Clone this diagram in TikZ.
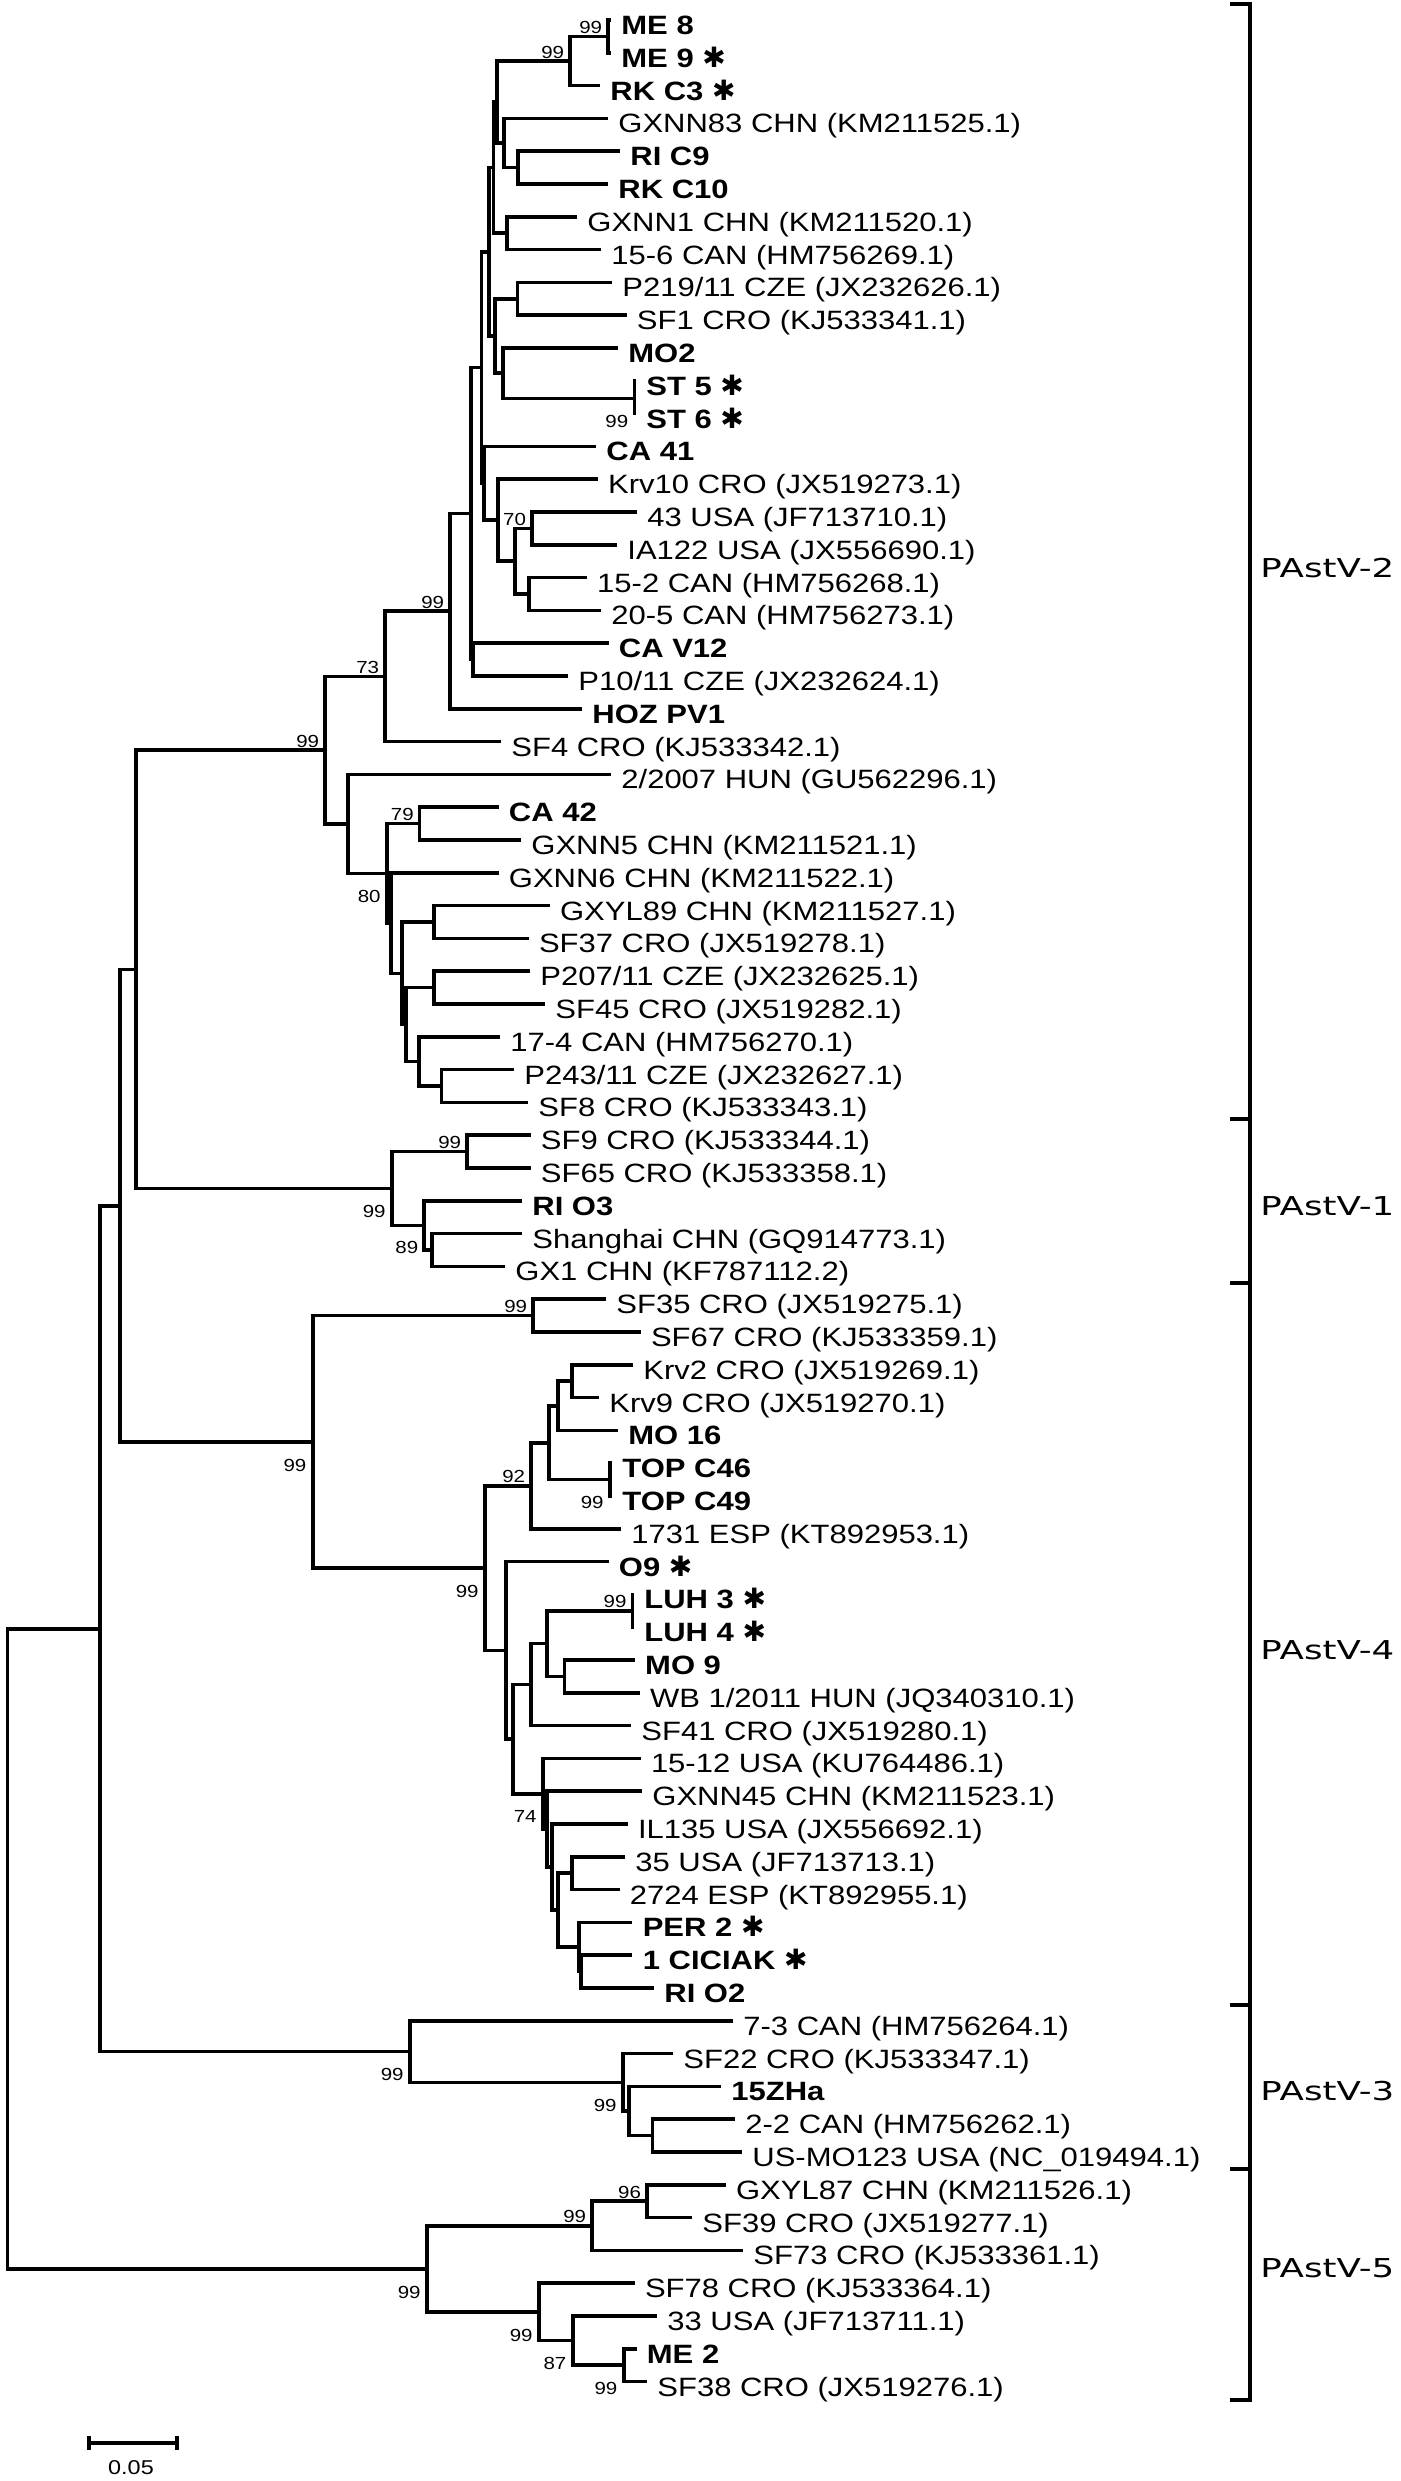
\documentclass[tikz,border=0pt]{standalone}
\usepackage{fontspec}
\newfontfamily\tipfont{Liberation Sans}[FakeStretch=1.17]
\newfontfamily\cladefont{DejaVu Sans}[FakeStretch=1.37]
\newfontfamily\markfont{DejaVu Sans}
\usetikzlibrary{positioning}
\newcommand{\astmark}{{\markfont\fontsize{14}{15}\selectfont ✱}}

\begin{document}
\begin{tikzpicture}[
x=0.5pt, y=-0.5pt,
    branch/.style={draw, line width=1.8pt, line join=miter},
    taxon/.style={anchor=base west, inner sep=0pt, xshift=5pt, yshift=-7.25pt, font=\tipfont\fontsize{13.25}{15}\selectfont},
    isolate/.style={taxon, font=\tipfont\bfseries\fontsize{13.25}{15}\selectfont},
    boot/.style={inner sep=0pt, font=\tipfont\fontsize{8.75}{10}\selectfont},
    bootup/.style={boot, node distance=1.2pt and 2.75pt},
    bootdn/.style={boot, node distance=8.3pt and 3pt},
    clade/.style={anchor=west, inner sep=0pt, font=\cladefont\fontsize{13}{15}\selectfont},
    cladebar/.style={draw, line width=2pt}
]
\useasboundingbox (0,0) rectangle (1401,2481);

    % ================= BACKBONE =================
    \coordinate (root) at (7.5,1948.8);
    \coordinate (nA) at (100,1628.7);
    \coordinate (nB) at (120,1205.7);
    \coordinate (nC) at (136,969.4);
    \coordinate (p2) at (325,750.2);
    \coordinate (p1) at (392,1188.5);
    \coordinate (p4) at (312.7,1441.9);
    \coordinate (p3) at (410,2051.6);
    \coordinate (p5) at (427,2268.9);

    % ================= PAstV-2 NODES =================
    \coordinate (n73) at (385,676.4);
    \coordinate (n99b) at (450,611.2);
    \coordinate (nU) at (471,513.6);
    \coordinate (nX) at (481.5,367.5);
    \coordinate (nZ) at (488.7,251.8);
    \coordinate (nR1) at (493.5,167.6);
    \coordinate (nQ) at (497,102);
    \coordinate (nMR) at (570,61);
    \coordinate (nM89) at (608,36.4);
    \coordinate (nG83) at (504,143);
    \coordinate (nRC) at (518,167.6);
    \coordinate (nG1) at (507,233.2);
    \coordinate (nS) at (495,336);
    \coordinate (nP219) at (517.4,298.8);
    \coordinate (nMO2) at (503,373.2);
    \coordinate (nST) at (634.6,398.4);
    \coordinate (nY) at (484,483.3);
    \coordinate (nKrv) at (498,520.2);
    \coordinate (nC1) at (515,561.2);
    \coordinate (n70) at (531.8,528.4);
    \coordinate (n152) at (529,594);
    \coordinate (nE) at (473,659.6);
    \coordinate (n80p) at (348,823.9);
    \coordinate (n80) at (387,873.4);
    \coordinate (n79) at (419.6,823.6);
    \coordinate (n81) at (391,923.1);
    \coordinate (n82) at (402,973.3);
    \coordinate (n86) at (434,922);
    \coordinate (n90) at (406,1024.5);
    \coordinate (n87) at (434,987.6);
    \coordinate (n85) at (419,1061.4);
    \coordinate (n113) at (441.6,1085.8);

    % ================= PAstV-1 NODES =================
    \coordinate (nSF9) at (467,1151.6);
    \coordinate (n89) at (424,1225.4);
    \coordinate (n89b) at (432,1250);

    % ================= PAstV-4 NODES =================
    \coordinate (nSF35) at (533,1315.6);
    \coordinate (n91) at (485,1568.1);
    \coordinate (n92) at (531,1485.8);
    \coordinate (n93) at (548.7,1442.7);
    \coordinate (n94) at (558,1405.8);
    \coordinate (nKrv2) at (571.7,1381.2);
    \coordinate (nTOP) at (610,1479.6);
    \coordinate (n95) at (505.7,1650.4);
    \coordinate (n96) at (512.8,1739.2);
    \coordinate (n97) at (531,1684.6);
    \coordinate (n99) at (547,1643.6);
    \coordinate (nLUH) at (632.4,1610.8);
    \coordinate (nMO9) at (564.5,1676.4);
    \coordinate (n98) at (543,1793.8);
    \coordinate (n100) at (547,1829.1);
    \coordinate (n103) at (552,1867);
    \coordinate (n104) at (558,1910.1);
    \coordinate (n35) at (571.7,1873.2);
    \coordinate (n101) at (579,1947);
    \coordinate (n102) at (581,1971.6);

    % ================= PAstV-3 / PAstV-5 NODES =================
    \coordinate (n105) at (623,2082.3);
    \coordinate (n106) at (629,2111);
    \coordinate (n107) at (652.5,2135.6);
    \coordinate (n108) at (592,2225.8);
    \coordinate (n110) at (646.8,2201.2);
    \coordinate (n109) at (539,2311.9);
    \coordinate (n111) at (572.7,2340.6);
    \coordinate (n112) at (623.7,2365.2);

    % ================= TIPS =================
    \coordinate (t_me8) at (611,20);
    \coordinate (t_me9) at (611,52.8);
    \coordinate (t_rkc3) at (600,85.6);
    \coordinate (t_gxnn83) at (608,118.4);
    \coordinate (t_ric9) at (620,151.2);
    \coordinate (t_rkc10) at (608,184);
    \coordinate (t_gxnn1) at (577,216.8);
    \coordinate (t_can156) at (601,249.6);
    \coordinate (t_p219) at (612,282.4);
    \coordinate (t_sf1) at (626.5,315.2);
    \coordinate (t_mo2) at (618,348);
    \coordinate (t_st5) at (636,380.8);
    \coordinate (t_st6) at (636,413.6);
    \coordinate (t_ca41) at (596,446.4);
    \coordinate (t_krv10) at (597.8,479.2);
    \coordinate (t_usa43) at (637,512);
    \coordinate (t_ia122) at (617,544.8);
    \coordinate (t_can152) at (586.8,577.6);
    \coordinate (t_can205) at (601,610.4);
    \coordinate (t_cav12) at (608.5,643.2);
    \coordinate (t_p10) at (568,676);
    \coordinate (t_hoz) at (582,708.8);
    \coordinate (t_sf4) at (501,741.6);
    \coordinate (t_hun2007) at (611,774.4);
    \coordinate (t_ca42) at (498.5,807.2);
    \coordinate (t_gxnn5) at (521,840);
    \coordinate (t_gxnn6) at (498.5,872.8);
    \coordinate (t_gxyl89) at (549.7,905.6);
    \coordinate (t_sf37) at (528.6,938.4);
    \coordinate (t_p207) at (530,971.2);
    \coordinate (t_sf45) at (545,1004);
    \coordinate (t_can174) at (500,1036.8);
    \coordinate (t_p243) at (514,1069.6);
    \coordinate (t_sf8) at (528,1102.4);
    \coordinate (t_sf9) at (530.5,1135.2);
    \coordinate (t_sf65) at (530.5,1168);
    \coordinate (t_rio3) at (522,1200.8);
    \coordinate (t_shanghai) at (522,1233.6);
    \coordinate (t_gx1) at (505,1266.4);
    \coordinate (t_sf35) at (606,1299.2);
    \coordinate (t_sf67) at (640.6,1332);
    \coordinate (t_krv2) at (633,1364.8);
    \coordinate (t_krv9) at (599,1397.6);
    \coordinate (t_mo16) at (618,1430.4);
    \coordinate (t_topc46) at (612,1463.2);
    \coordinate (t_topc49) at (612,1496);
    \coordinate (t_esp1731) at (621,1528.8);
    \coordinate (t_o9) at (608.5,1561.6);
    \coordinate (t_luh3) at (634,1594.4);
    \coordinate (t_luh4) at (634,1627.2);
    \coordinate (t_mo9) at (634.8,1660);
    \coordinate (t_wb) at (639.6,1692.8);
    \coordinate (t_sf41) at (631,1725.6);
    \coordinate (t_usa1512) at (640.6,1758.4);
    \coordinate (t_gxnn45) at (642,1791.2);
    \coordinate (t_il135) at (627.6,1824);
    \coordinate (t_usa35) at (625,1856.8);
    \coordinate (t_esp2724) at (619.5,1889.6);
    \coordinate (t_per2) at (632.4,1922.4);
    \coordinate (t_ciciak) at (632.4,1955.2);
    \coordinate (t_rio2) at (654,1988);
    \coordinate (t_can73) at (733,2020.8);
    \coordinate (t_sf22) at (673,2053.6);
    \coordinate (t_zha) at (721,2086.4);
    \coordinate (t_can22) at (735,2119.2);
    \coordinate (t_usmo) at (742,2152);
    \coordinate (t_gxyl87) at (725.7,2184.8);
    \coordinate (t_sf39) at (692,2217.6);
    \coordinate (t_sf73) at (743,2250.4);
    \coordinate (t_sf78) at (634.6,2283.2);
    \coordinate (t_usa33) at (657,2316);
    \coordinate (t_me2) at (636.5,2348.8);
    \coordinate (t_sf38) at (647,2381.6);

    % ================= BRANCHES =================
    \draw[branch] (nA) -| (root) |- (p5);
    \draw[branch] (nB) -| (nA) |- (p3);
    \draw[branch] (nC) -| (nB) |- (p4);
    \draw[branch] (p2) -| (nC) |- (p1);

    % PAstV-2
    \draw[branch] (n73) -| (p2) |- (n80p);
    \draw[branch] (n99b) -| (n73) |- (t_sf4);
    \draw[branch] (nU) -| (n99b) |- (t_hoz);
    \draw[branch] (nX) -| (nU) |- (nE);
    \draw[branch] (nZ) -| (nX) |- (nY);
    \draw[branch] (nR1) -| (nZ) |- (nS);
    \draw[branch] (nQ) -| (nR1) |- (nG1);
    \draw[branch] (nMR) -| (nQ) |- (nG83);
    \draw[branch] (nM89) -| (nMR) |- (t_rkc3);
    \draw[branch] (t_me8) -| (nM89) |- (t_me9);
    \draw[branch] (t_gxnn83) -| (nG83) |- (nRC);
    \draw[branch] (t_ric9) -| (nRC) |- (t_rkc10);
    \draw[branch] (t_gxnn1) -| (nG1) |- (t_can156);
    \draw[branch] (nP219) -| (nS) |- (nMO2);
    \draw[branch] (t_p219) -| (nP219) |- (t_sf1);
    \draw[branch] (t_mo2) -| (nMO2) |- (nST);
    \draw[branch] (t_st5) -| (nST) |- (t_st6);
    \draw[branch] (t_ca41) -| (nY) |- (nKrv);
    \draw[branch] (t_krv10) -| (nKrv) |- (nC1);
    \draw[branch] (n70) -| (nC1) |- (n152);
    \draw[branch] (t_usa43) -| (n70) |- (t_ia122);
    \draw[branch] (t_can152) -| (n152) |- (t_can205);
    \draw[branch] (t_cav12) -| (nE) |- (t_p10);
    \draw[branch] (t_hun2007) -| (n80p) |- (n80);
    \draw[branch] (n79) -| (n80) |- (n81);
    \draw[branch] (t_ca42) -| (n79) |- (t_gxnn5);
    \draw[branch] (t_gxnn6) -| (n81) |- (n82);
    \draw[branch] (n86) -| (n82) |- (n90);
    \draw[branch] (t_gxyl89) -| (n86) |- (t_sf37);
    \draw[branch] (n87) -| (n90) |- (n85);
    \draw[branch] (t_p207) -| (n87) |- (t_sf45);
    \draw[branch] (t_can174) -| (n85) |- (n113);
    \draw[branch] (t_p243) -| (n113) |- (t_sf8);

    % PAstV-1
    \draw[branch] (nSF9) -| (p1) |- (n89);
    \draw[branch] (t_sf9) -| (nSF9) |- (t_sf65);
    \draw[branch] (t_rio3) -| (n89) |- (n89b);
    \draw[branch] (t_shanghai) -| (n89b) |- (t_gx1);

    % PAstV-4
    \draw[branch] (nSF35) -| (p4) |- (n91);
    \draw[branch] (t_sf35) -| (nSF35) |- (t_sf67);
    \draw[branch] (n92) -| (n91) |- (n95);
    \draw[branch] (n93) -| (n92) |- (t_esp1731);
    \draw[branch] (n94) -| (n93) |- (nTOP);
    \draw[branch] (nKrv2) -| (n94) |- (t_mo16);
    \draw[branch] (t_krv2) -| (nKrv2) |- (t_krv9);
    \draw[branch] (t_topc46) -| (nTOP) |- (t_topc49);
    \draw[branch] (t_o9) -| (n95) |- (n96);
    \draw[branch] (n97) -| (n96) |- (n98);
    \draw[branch] (n99) -| (n97) |- (t_sf41);
    \draw[branch] (nLUH) -| (n99) |- (nMO9);
    \draw[branch] (t_luh3) -| (nLUH) |- (t_luh4);
    \draw[branch] (t_mo9) -| (nMO9) |- (t_wb);
    \draw[branch] (t_usa1512) -| (n98) |- (n100);
    \draw[branch] (t_gxnn45) -| (n100) |- (n103);
    \draw[branch] (t_il135) -| (n103) |- (n104);
    \draw[branch] (n35) -| (n104) |- (n101);
    \draw[branch] (t_usa35) -| (n35) |- (t_esp2724);
    \draw[branch] (t_per2) -| (n101) |- (n102);
    \draw[branch] (t_ciciak) -| (n102) |- (t_rio2);

    % PAstV-3
    \draw[branch] (t_can73) -| (p3) |- (n105);
    \draw[branch] (t_sf22) -| (n105) |- (n106);
    \draw[branch] (t_zha) -| (n106) |- (n107);
    \draw[branch] (t_can22) -| (n107) |- (t_usmo);

    % PAstV-5
    \draw[branch] (n108) -| (p5) |- (n109);
    \draw[branch] (n110) -| (n108) |- (t_sf73);
    \draw[branch] (t_gxyl87) -| (n110) |- (t_sf39);
    \draw[branch] (t_sf78) -| (n109) |- (n111);
    \draw[branch] (t_usa33) -| (n111) |- (n112);
    \draw[branch] (t_me2) -| (n112) |- (t_sf38);

    % ================= TAXON LABELS =================
    \node[isolate] (me8) at (t_me8) {ME 8};
    \node[isolate] (me9) at (t_me9) {ME 9 \astmark};
    \node[isolate] (rkc3) at (t_rkc3) {RK C3 \astmark};
    \node[taxon] (gxnn83) at (t_gxnn83) {GXNN83 CHN (KM211525.1)};
    \node[isolate] (ric9) at (t_ric9) {RI C9};
    \node[isolate] (rkc10) at (t_rkc10) {RK C10};
    \node[taxon] (gxnn1) at (t_gxnn1) {GXNN1 CHN (KM211520.1)};
    \node[taxon] (can156) at (t_can156) {15-6 CAN (HM756269.1)};
    \node[taxon] (p219) at (t_p219) {P219/11 CZE (JX232626.1)};
    \node[taxon] (sf1) at (t_sf1) {SF1 CRO (KJ533341.1)};
    \node[isolate] (mo2) at (t_mo2) {MO2};
    \node[isolate] (st5) at (t_st5) {ST 5 \astmark};
    \node[isolate] (st6) at (t_st6) {ST 6 \astmark};
    \node[isolate] (ca41) at (t_ca41) {CA 41};
    \node[taxon] (krv10) at (t_krv10) {Krv10 CRO (JX519273.1)};
    \node[taxon] (usa43) at (t_usa43) {43 USA (JF713710.1)};
    \node[taxon] (ia122) at (t_ia122) {IA122 USA (JX556690.1)};
    \node[taxon] (can152) at (t_can152) {15-2 CAN (HM756268.1)};
    \node[taxon] (can205) at (t_can205) {20-5 CAN (HM756273.1)};
    \node[isolate] (cav12) at (t_cav12) {CA V12};
    \node[taxon] (p10) at (t_p10) {P10/11 CZE (JX232624.1)};
    \node[isolate] (hoz) at (t_hoz) {HOZ PV1};
    \node[taxon] (sf4) at (t_sf4) {SF4 CRO (KJ533342.1)};
    \node[taxon] (hun2007) at (t_hun2007) {2/2007 HUN (GU562296.1)};
    \node[isolate] (ca42) at (t_ca42) {CA 42};
    \node[taxon] (gxnn5) at (t_gxnn5) {GXNN5 CHN (KM211521.1)};
    \node[taxon] (gxnn6) at (t_gxnn6) {GXNN6 CHN (KM211522.1)};
    \node[taxon] (gxyl89) at (t_gxyl89) {GXYL89 CHN (KM211527.1)};
    \node[taxon] (sf37) at (t_sf37) {SF37 CRO (JX519278.1)};
    \node[taxon] (p207) at (t_p207) {P207/11 CZE (JX232625.1)};
    \node[taxon] (sf45) at (t_sf45) {SF45 CRO (JX519282.1)};
    \node[taxon] (can174) at (t_can174) {17-4 CAN (HM756270.1)};
    \node[taxon] (p243) at (t_p243) {P243/11 CZE (JX232627.1)};
    \node[taxon] (sf8) at (t_sf8) {SF8 CRO (KJ533343.1)};
    \node[taxon] (sf9) at (t_sf9) {SF9 CRO (KJ533344.1)};
    \node[taxon] (sf65) at (t_sf65) {SF65 CRO (KJ533358.1)};
    \node[isolate] (rio3) at (t_rio3) {RI O3};
    \node[taxon] (shanghai) at (t_shanghai) {Shanghai CHN (GQ914773.1)};
    \node[taxon] (gx1) at (t_gx1) {GX1 CHN (KF787112.2)};
    \node[taxon] (sf35) at (t_sf35) {SF35 CRO (JX519275.1)};
    \node[taxon] (sf67) at (t_sf67) {SF67 CRO (KJ533359.1)};
    \node[taxon] (krv2) at (t_krv2) {Krv2 CRO (JX519269.1)};
    \node[taxon] (krv9) at (t_krv9) {Krv9 CRO (JX519270.1)};
    \node[isolate] (mo16) at (t_mo16) {MO 16};
    \node[isolate] (topc46) at (t_topc46) {TOP C46};
    \node[isolate] (topc49) at (t_topc49) {TOP C49};
    \node[taxon] (esp1731) at (t_esp1731) {1731 ESP (KT892953.1)};
    \node[isolate] (o9) at (t_o9) {O9 \astmark};
    \node[isolate] (luh3) at (t_luh3) {LUH 3 \astmark};
    \node[isolate] (luh4) at (t_luh4) {LUH 4 \astmark};
    \node[isolate] (mo9) at (t_mo9) {MO 9};
    \node[taxon] (wb) at (t_wb) {WB 1/2011 HUN (JQ340310.1)};
    \node[taxon] (sf41) at (t_sf41) {SF41 CRO (JX519280.1)};
    \node[taxon] (usa1512) at (t_usa1512) {15-12 USA (KU764486.1)};
    \node[taxon] (gxnn45) at (t_gxnn45) {GXNN45 CHN (KM211523.1)};
    \node[taxon] (il135) at (t_il135) {IL135 USA (JX556692.1)};
    \node[taxon] (usa35) at (t_usa35) {35 USA (JF713713.1)};
    \node[taxon] (esp2724) at (t_esp2724) {2724 ESP (KT892955.1)};
    \node[isolate] (per2) at (t_per2) {PER 2 \astmark};
    \node[isolate] (ciciak) at (t_ciciak) {1 CICIAK \astmark};
    \node[isolate] (rio2) at (t_rio2) {RI O2};
    \node[taxon] (can73) at (t_can73) {7-3 CAN (HM756264.1)};
    \node[taxon] (sf22) at (t_sf22) {SF22 CRO (KJ533347.1)};
    \node[isolate] (zha) at (t_zha) {15ZHa};
    \node[taxon] (can22) at (t_can22) {2-2 CAN (HM756262.1)};
    \node[taxon] (usmo) at (t_usmo) {US-MO123 USA (NC\_019494.1)};
    \node[taxon] (gxyl87) at (t_gxyl87) {GXYL87 CHN (KM211526.1)};
    \node[taxon] (sf39) at (t_sf39) {SF39 CRO (JX519277.1)};
    \node[taxon] (sf73) at (t_sf73) {SF73 CRO (KJ533361.1)};
    \node[taxon] (sf78) at (t_sf78) {SF78 CRO (KJ533364.1)};
    \node[taxon] (usa33) at (t_usa33) {33 USA (JF713711.1)};
    \node[isolate] (me2) at (t_me2) {ME 2};
    \node[taxon] (sf38) at (t_sf38) {SF38 CRO (JX519276.1)};

    % ================= BOOTSTRAP VALUES =================
    \node[bootup, above left=of nM89] (b_m89) {99};
    \node[bootup, above left=of nMR] (b_mr) {99};
    \node[bootdn, below left=of nST] (b_st) {99};
    \node[bootup, above left=of n70] (b_70) {70};
    \node[bootup, above left=of n99b] (b_99b) {99};
    \node[bootup, above left=of n73] (b_73) {73};
    \node[bootup, above left=of p2] (b_p2) {99};
    \node[bootup, above left=of n79] (b_79) {79};
    \node[bootdn, below left=of n80] (b_80) {80};
    \node[bootup, above left=of nSF9] (b_sf9) {99};
    \node[bootdn, below left=of p1] (b_p1) {99};
    \node[boot, left=6.7pt of n89b, yshift=1.35pt] (b_89) {89};
    \node[bootup, above left=of nSF35] (b_sf35) {99};
    \node[bootdn, below left=of p4] (b_p4) {99};
    \node[bootup, above left=of n92] (b_92) {92};
    \node[bootdn, below left=of nTOP] (b_top) {99};
    \node[bootdn, below left=of n91] (b_91) {99};
    \node[bootup, above left=of nLUH] (b_luh) {99};
    \node[bootdn, below left=of n98] (b_74) {74};
    \node[bootdn, below left=of p3] (b_p3) {99};
    \node[bootdn, below left=of n105] (b_105) {99};
    \node[bootup, above left=of n110] (b_96) {96};
    \node[bootup, above left=of n108] (b_108) {99};
    \node[bootdn, below left=of p5] (b_p5) {99};
    \node[bootdn, below left=of n109] (b_109) {99};
    \node[bootdn, below left=of n111] (b_87) {87};
    \node[bootdn, below left=of n112] (b_112) {99};

    % ================= GENOTYPE BARS =================
    \draw[cladebar] (1230,4) -| (1250,2400) -- (1230,2400);
    \draw[cladebar] (1230,1119) -- (1250,1119);
    \draw[cladebar] (1230,1283) -- (1250,1283);
    \draw[cladebar] (1230,2005) -- (1250,2005);
    \draw[cladebar] (1230,2169) -- (1250,2169);
    \node[clade] (g2) at (1260,568) {PAstV-2};
    \node[clade] (g1) at (1260,1206.5) {PAstV-1};
    \node[clade] (g4) at (1260,1650) {PAstV-4};
    \node[clade] (g3) at (1260,2091.5) {PAstV-3};
    \node[clade] (g5) at (1260,2268) {PAstV-5};

    % ================= SCALE =================
    \draw[branch] (89,2436) -- (89,2450) (89,2443) -- (177,2443) (177,2436) -- (177,2450);
    \node[boot, font=\tipfont\fontsize{10}{12}\selectfont] (scale) at (131,2468) {0.05};

\end{tikzpicture}
\end{document}
